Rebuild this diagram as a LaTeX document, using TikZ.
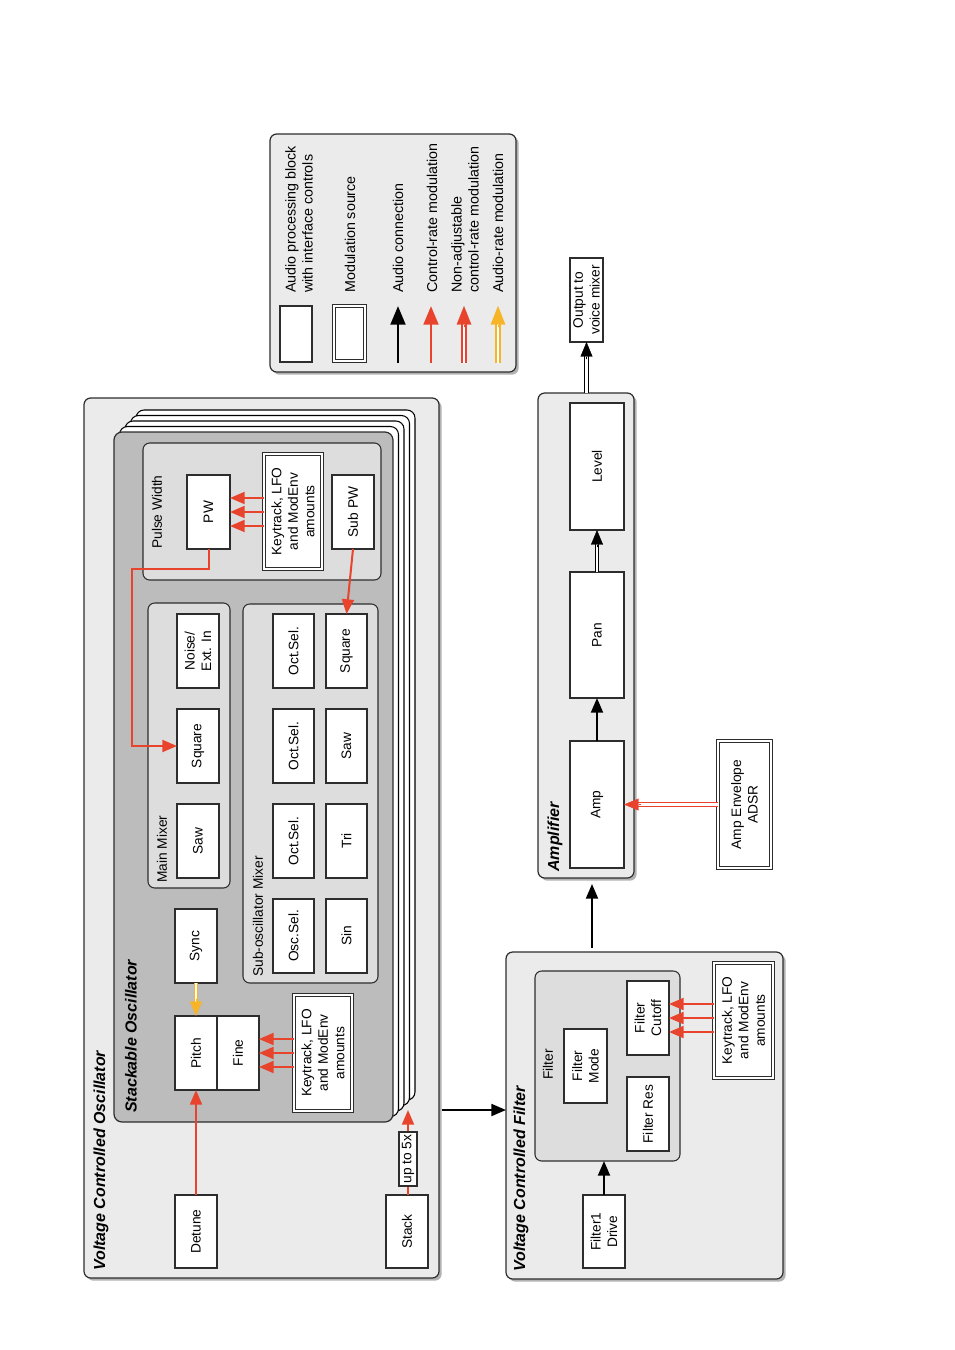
\documentclass[tikz,border=0pt]{standalone}
\usepackage{fontspec}
\setmainfont{Liberation Sans}
\usetikzlibrary{arrows.meta,calc,shadows}
\definecolor{vred}{RGB}{232,68,45}
\definecolor{vyel}{RGB}{246,180,38}
\definecolor{bgA}{RGB}{235,235,235}
\definecolor{bgB}{RGB}{221,221,221}
\definecolor{bgC}{RGB}{188,188,188}
\definecolor{edge}{RGB}{45,45,45}
\newcommand{\myfs}{\fontsize{10.3}{12.4}\selectfont}
\newcommand{\mylfs}{\fontsize{10.7}{12.6}\selectfont}
\newcommand{\bx}[7][blk]{%
 \pgfmathsetmacro\bxcx{(#3+#5)/2}%
 \pgfmathsetmacro\bxcy{(#4+#6)/2}%
 \pgfmathsetmacro\bxw{(#6-#4)*0.75}%
 \pgfmathsetmacro\bxh{(#5-#3)*0.75}%
 \node[#1,minimum width=\bxw pt,minimum height=\bxh pt] (#2) at (\bxcx,\bxcy) {#7};}
\newcommand{\grp}[6][grpA]{%
 \pgfmathsetmacro\bxcx{(#3+#5)/2}%
 \pgfmathsetmacro\bxcy{(#4+#6)/2}%
 \pgfmathsetmacro\bxw{(#5-#3)*0.75}%
 \pgfmathsetmacro\bxh{(#6-#4)*0.75}%
 \node[#1,minimum width=\bxw pt,minimum height=\bxh pt] (#2) at (\bxcx,\bxcy) {};}
\newcommand{\dbl}[3]{%
 \draw[draw=#1, line width=0.75pt, double=white, double distance=1.6pt, shorten >=9pt] (#2) -- (#3);
 \draw[draw=#1, fill=#1, line width=0.3pt, -{Triangle[length=11pt,width=9pt]}] ($(#3)!13pt!(#2)$) -- (#3);}
\tikzset{
 blk/.style={draw=edge, fill=white, line width=0.9pt, rotate=90, inner sep=1pt, outer sep=0pt, align=center, font=\myfs},
 mod/.style={blk, line width=0.7pt, double=white, double distance=1.6pt},
 grpA/.style={draw=edge, fill=bgA, rounded corners=5pt, line width=0.9pt, inner sep=0pt, outer sep=0pt,
   drop shadow={shadow xshift=2pt, shadow yshift=-2pt, opacity=0.3, fill=black}},
 grpB/.style={draw=edge, fill=bgB, rounded corners=5pt, line width=0.8pt, inner sep=0pt, outer sep=0pt},
 grpC/.style={draw=edge, fill=bgC, rounded corners=6pt, line width=0.9pt, inner sep=0pt, outer sep=0pt},
 layer/.style={draw=black, fill=white, rounded corners=6pt, line width=0.8pt},
 ttl/.style={rotate=90, anchor=west, inner sep=0pt, font=\bfseries\itshape\fontsize{12}{14}\selectfont},
 lbl/.style={rotate=90, anchor=west, inner sep=0pt, font=\myfs},
 lgl/.style={rotate=90, anchor=west, inner sep=0pt, align=left, font=\mylfs},
 ctl/.style={draw=vred, line width=1.5pt, -{Triangle[length=11pt,width=9pt]}},
 aud/.style={draw=black, line width=1.5pt, -{Triangle[length=11pt,width=9pt]}},
}
\begin{document}
\begin{tikzpicture}[x=0.75pt,y=-0.75pt]
\fill[white] (0,0) rectangle (954,1350);
\useasboundingbox (0,0) rectangle (954,1350);

% ---------------- Legend
\grp[grpA]{LEG}{270}{134}{516}{372}
\bx{LA}{280}{306}{312}{362}{}
\bx[mod]{LM}{334}{306}{365}{361}{}
\coordinate (la1) at (398,363); \coordinate (la2) at (398,306);
\coordinate (lb1) at (431,363); \coordinate (lb2) at (431,306);
\coordinate (lc1) at (464,363); \coordinate (lc2) at (464,306);
\coordinate (ld1) at (498,363); \coordinate (ld2) at (498,306);
\draw[black, line width=2.2pt, -{Triangle[length=14pt,width=11pt]}] (la1) -- (la2);
\draw[vred, line width=2.2pt, -{Triangle[length=14pt,width=11pt]}] (lb1) -- (lb2);
\draw[draw=vred, line width=1pt, double=white, double distance=2pt, shorten >=11pt] (lc1) -- (lc2);
\draw[vred, line width=0.3pt, -{Triangle[length=14pt,width=11pt]}] ($(lc2)!16pt!(lc1)$) -- (lc2);
\draw[draw=vyel, line width=1pt, double=white, double distance=2pt, shorten >=11pt] (ld1) -- (ld2);
\draw[vyel, line width=0.3pt, -{Triangle[length=14pt,width=11pt]}] ($(ld2)!16pt!(ld1)$) -- (ld2);
\node[lgl] (lt1) at (299,293) {Audio processing block\\with interface controls};
\node[lgl] (lt2) at (350,293) {Modulation source};
\node[lgl] (lt3) at (398,293) {Audio connection};
\node[lgl] (lt4) at (432,293) {Control-rate modulation};
\node[lgl] (lt5) at (465,293) {Non-adjustable\\control-rate modulation};
\node[lgl] (lt6) at (498,293) {Audio-rate modulation};

% ---------------- VCO
\grp[grpA]{VCO}{84}{398}{439}{1278}
\foreach \k in {4,3,2,1} {
  \draw[layer] (114+5.5*\k, 432-5.5*\k) rectangle (393+5.5*\k, 1122-5.5*\k);
}
\grp[grpC]{STK}{114}{432}{393}{1122}
\grp[grpB]{PWG}{143}{443}{381}{580}
\grp[grpB]{MMX}{148}{603}{230}{888}
\grp[grpB]{SMX}{243}{604}{378}{983}

\node[ttl] (tVCO) at (101,1271) {Voltage Controlled Oscillator};
\node[ttl] (tSTK) at (131,1113) {Stackable Oscillator};
\node[lbl] (lPW) at (157,549) {Pulse Width};
\node[lbl] (lMM) at (162,883) {Main Mixer};
\node[lbl] (lSM) at (258,977) {Sub-oscillator Mixer};

\bx{PW}{187}{475}{230}{549}{PW}
\bx[mod]{KT1}{264}{454}{322}{569}{Keytrack, LFO\\and ModEnv\\amounts}
\bx{SubPW}{332}{475}{374}{549}{Sub PW}
\bx{Noise}{177}{614}{219}{688}{Noise/\\Ext. In}
\bx{MSq}{177}{709}{219}{783}{Square}
\bx{MSaw}{177}{804}{219}{878}{Saw}
\bx{OS1}{273}{614}{314}{688}{Oct.Sel.}
\bx{SSq}{326}{614}{367}{688}{Square}
\bx{OS2}{273}{709}{314}{783}{Oct.Sel.}
\bx{SSaw}{326}{709}{367}{783}{Saw}
\bx{OS3}{273}{804}{314}{878}{Oct.Sel.}
\bx{STri}{326}{804}{367}{878}{Tri}
\bx{OscSel}{273}{899}{314}{973}{Osc.Sel.}
\bx{SSin}{326}{899}{367}{973}{Sin}
\bx{Sync}{175}{909}{217}{983}{Sync}
\bx{Pitch}{175}{1016}{217}{1090}{Pitch}
\bx{Fine}{217}{1016}{259}{1090}{Fine}
\bx[mod]{KT2}{294}{995}{352}{1111}{Keytrack, LFO\\and ModEnv\\amounts}
\bx{Detune}{175}{1195}{217}{1268}{Detune}
\bx{Stack}{386}{1195}{428}{1268}{Stack}

\foreach \d in {-14,0,14} {
  \draw[ctl] ($(KT1.north |- PW.south)+(0,\d)$) -- ($(PW.south)+(0,\d)$);
  \draw[ctl] ($(KT2.north |- Fine.south)+(0,\d)$) -- ($(Fine.south)+(0,\d)$);
}
\coordinate (pwb) at (132,569);
\draw[ctl] (PW.west) |- (pwb) |- (MSq.north);
\draw[ctl] (SubPW.west) -- (SSq.east);
\dbl{vyel}{Sync.west}{Pitch.east}
\draw[ctl] (Detune.east) -- (Pitch.west);
\coordinate (stkin) at (408,1110);
\draw[ctl] (Stack.east -| stkin) -- (stkin);
\bx[blk,inner sep=0pt]{Up}{399}{1132}{417}{1186}{up to 5x}

% ---------------- VCF
\grp[grpA]{VCF}{506}{952}{783}{1279}
\grp[grpB]{FG}{535}{971}{680}{1161}
\node[ttl] (tVCF) at (521,1272) {Voltage Controlled Filter};
\node[lbl] (lF) at (548,1080) {Filter};
\bx{FMode}{564}{1029}{607}{1103}{Filter\\Mode}
\bx{FCut}{627}{981}{669}{1055}{Filter\\Cutoff}
\bx{FRes}{627}{1077}{669}{1151}{Filter Res}
\bx[mod]{KT3}{714}{963}{773}{1078}{Keytrack, LFO\\and ModEnv\\amounts}
\bx{Drive}{583}{1195}{625}{1268}{Filter1\\Drive}
\foreach \d in {-14,0,14} {
  \draw[ctl] ($(KT3.north |- FCut.south)+(0,\d)$) -- ($(FCut.south)+(0,\d)$);
}
\draw[aud] (Drive.east) -- (Drive.east |- FG.south);
\draw[aud, shorten <=2pt] (VCO.east |- stkin) -- (VCF.west |- stkin);

% ---------------- Amplifier
\grp[grpA]{AMPG}{538}{393}{634}{878}
\node[ttl] (tAMP) at (555,872) {Amplifier};
\bx{Level}{570}{403}{624}{530}{Level}
\bx{Pan}{570}{572}{624}{698}{Pan}
\bx{Amp}{570}{741}{624}{868}{Amp}
\bx[mod]{AEnv}{718}{741}{771}{868}{Amp Envelope\\ADSR}
\bx[blk,inner sep=0.5pt]{Out}{570}{258}{603}{342}{Output to\\voice mixer}
\draw[aud, shorten <=3pt, shorten >=4.5pt] (VCF.north -| 592,0) -- (AMPG.south -| 592,0);
\dbl{vred}{AEnv.north}{Amp.south}
\draw[aud] (Amp.east) -- (Pan.west);
\dbl{black}{Pan.east}{Level.west}
\dbl{black}{Out.west |- AMPG.north}{Out.west}
\end{tikzpicture}
\end{document}
